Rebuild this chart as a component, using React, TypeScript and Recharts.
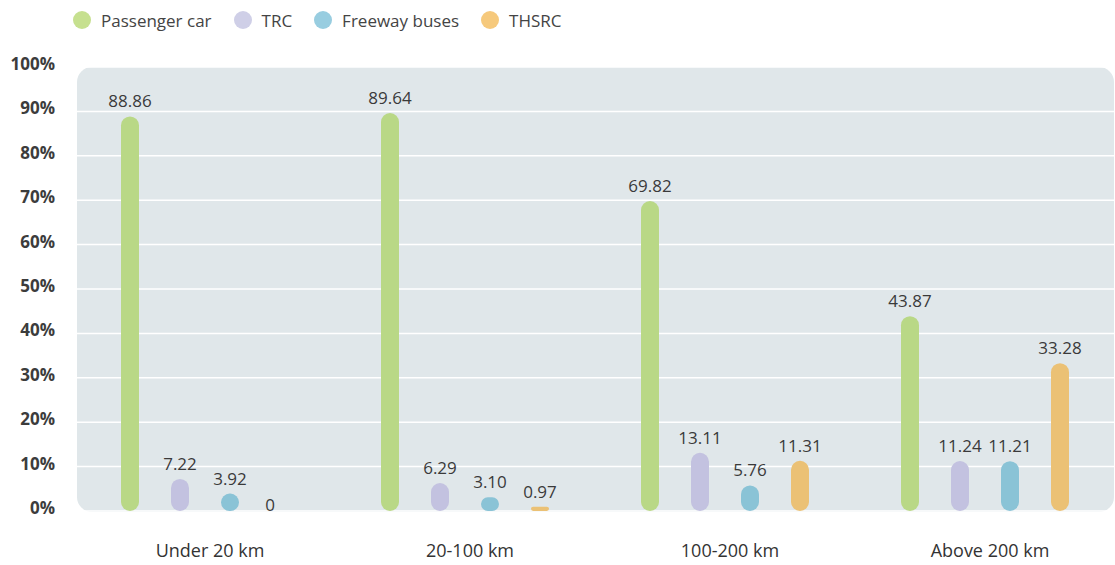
import React from "react";
import {
  BarChart,
  Bar,
  XAxis,
  YAxis,
  CartesianGrid,
  Legend,
  LabelList,
  ReferenceArea,
} from "recharts";

const categories = ["Under 20 km", "20-100 km", "100-200 km", "Above 200 km"];
const passengerCar = [88.86, 89.64, 69.82, 43.87];
const trc = [7.22, 6.29, 13.11, 11.24];
const freewayBuses = [3.92, 3.1, 5.76, 11.21];
const thsrc = [0, 0.97, 11.31, 33.28];
const yTicks = [0, 10, 20, 30, 40, 50, 60, 70, 80, 90, 100];

const seriesNames = ["Passenger car", "TRC", "Freeway buses", "THSRC"];
const seriesKeys = ["car", "trc", "bus", "thsrc"];
const barColors = ["#b9d886", "#c3c2e0", "#8ac3d6", "#ebc175"];
const legendColors = ["#c6e08f", "#cfcfe7", "#98cde0", "#f6c97c"];

const data = categories.map((c, i) => ({
  name: c,
  car: passengerCar[i],
  trc: trc[i],
  bus: freewayBuses[i],
  thsrc: thsrc[i],
}));

const FONT = "'Open Sans', sans-serif";

const renderLegend = () => (
  <div
    style={{
      height: 40,
      display: "flex",
      alignItems: "center",
      paddingLeft: 73,
      fontFamily: FONT,
      fontSize: 17,
      color: "#444",
    }}
  >
    {seriesNames.map((n, i) => (
      <div key={n} style={{ display: "flex", alignItems: "center", marginRight: 22 }}>
        <span
          style={{
            width: 18,
            height: 18,
            borderRadius: 9,
            background: legendColors[i],
            display: "inline-block",
            marginRight: 10,
          }}
        />
        <span>{n}</span>
      </div>
    ))}
  </div>
);

const makeLabel = (props: any) => {
  const { x, y, width, height, value } = props;
  const v = Number(value);
  const txt = v === 0 ? "0" : v.toFixed(2);
  const top = Math.min(Number(y), Number(y) + Number(height || 0));
  return (
    <text
      x={Number(x) + Number(width) / 2 - (v === 0 ? 10 : 0)}
      y={top - (v === 0 ? 0 : 9)}
      textAnchor="middle"
      fontFamily={FONT}
      fontSize={17}
      fill="#3a3a3a"
    >
      {txt}
    </text>
  );
};

const PanelShape = (p: any) => (
  <rect x={p.x + 2} y={p.y} width={p.width - 3} height={p.height + 1} rx={15} ry={15} fill="#e0e7ea" />
);

export default function App() {
  return (
    <div style={{ position: "absolute", left: 0, top: 0, width: 1115, height: 565, background: "#fff" }}>
      <BarChart
        width={1115}
        height={565}
        data={data}
        margin={{ top: 27, right: 0, bottom: 24, left: 0 }}
        barSize={18}
        barGap={32}
      >
        <ReferenceArea y1={0} y2={100} shape={PanelShape} ifOverflow="visible" zIndex={-200} />
        <CartesianGrid vertical={false} stroke="#ffffff" strokeWidth={1.5} />
        <Legend
          verticalAlign="top"
          align="left"
          content={renderLegend}
          wrapperStyle={{ top: 0, left: 0 }}
        />
        <XAxis
          dataKey="name"
          axisLine={false}
          tickLine={false}
          tickSize={0}
          tickMargin={33}
          tick={{ fontFamily: FONT, fontSize: 18, fill: "#333", dx: 5 }}
        />
        <YAxis
          domain={[0, 100]}
          ticks={yTicks}
          interval={0}
          width={75}
          axisLine={false}
          tickLine={false}
          tickSize={0}
          tickMargin={20}
          tickFormatter={(v: number) => `${v}%`}
          tick={{ fontFamily: FONT, fontSize: 17, fontWeight: 700, fill: "#3c3c3c", dy: -3 }}
        />
        {seriesKeys.map((k, i) => (
          <Bar
            key={k}
            dataKey={k}
            name={seriesNames[i]}
            fill={barColors[i]}
            radius={9}
            minPointSize={0.01}
            isAnimationActive={false}
          >
            <LabelList dataKey={k} content={makeLabel} />
          </Bar>
        ))}
      </BarChart>
    </div>
  );
}
